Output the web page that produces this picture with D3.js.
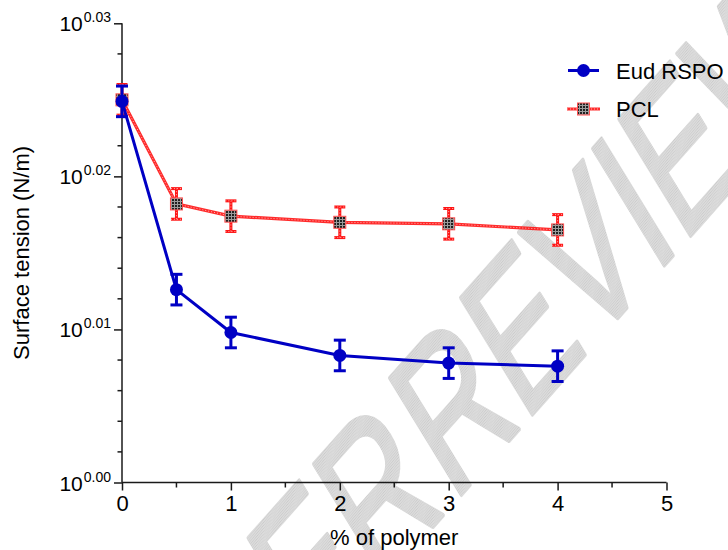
<!DOCTYPE html>
<html>
<head>
<meta charset="utf-8">
<script src="https://cdn.jsdelivr.net/npm/d3@7"></script>
<style>
  html, body { margin: 0; padding: 0; background: #fff; }
  svg { display: block; }
  text { font-family: Arial, "Liberation Sans", sans-serif; }
</style>
</head>
<body>
<svg id="chart" width="728" height="550"></svg>
<script>
// ---- data ----
const xValues = [0, 0.5, 1, 2, 3, 4];              // % of polymer
const eudValues = [0.0249, 0.0126, 0.0098, 0.0083, 0.0078, 0.0076]; // log10 exponent of surface tension
const eudErrors = [0.0010, 0.0010, 0.0010, 0.0010, 0.0010, 0.0010];
const pclValues = [0.0250, 0.0182, 0.0174, 0.0170, 0.0169, 0.0165];
const pclErrors = [0.0010, 0.0010, 0.0010, 0.0010, 0.0010, 0.0010];
const seriesNames = ["Eud RSPO", "PCL"];
const xTickValues = [0, 1, 2, 3, 4, 5];
const xMinorTicks = [0.5, 1.5, 2.5, 3.5, 4.5];
const yTickValues = [0, 0.01, 0.02, 0.03];
const yTickLabels = ["0.00", "0.01", "0.02", "0.03"];
const yMinorTicks = [0.002, 0.004, 0.006, 0.008, 0.012, 0.014, 0.016, 0.018, 0.022, 0.024, 0.026, 0.028];
const xTitle = "% of polymer";
const yTitle = "Surface tension (N/m)";
const watermarkA = "FOR PEER";
const watermarkB = "REVIEW";

const svg = d3.select("#chart");
const x = d3.scaleLinear().domain([0, 5]).range([122, 666.5]);
const y = d3.scaleLinear().domain([0, 0.03]).range([482.5, 23.3]);

const BLUE = "#0000c4";
const RED = "#ff1414";
const PINK = "#ffb4b4";

// patterns
const defs = svg.append("defs");
const sq = defs.append("pattern").attr("id", "sqtex").attr("patternUnits", "userSpaceOnUse")
  .attr("width", 3).attr("height", 3);
sq.append("rect").attr("width", 3).attr("height", 3).attr("fill", "#202020");
sq.append("rect").attr("width", 3).attr("height", 1).attr("fill", "#9a9a9a");
sq.append("rect").attr("width", 1).attr("height", 3).attr("fill", "#9a9a9a");
const wm = defs.append("pattern").attr("id", "wmtex").attr("patternUnits", "userSpaceOnUse")
  .attr("width", 2).attr("height", 2);
wm.append("rect").attr("width", 2).attr("height", 2).attr("fill", "#dcdcdc");
wm.append("rect").attr("width", 1).attr("height", 1).attr("fill", "#cacaca");

// ---- watermark ----
const wg = svg.append("g")
  .attr("transform", "translate(453,504) rotate(-48.5) skewX(-17) scale(0.78,1)")
  .attr("fill", "url(#wmtex)").attr("stroke", "url(#wmtex)").attr("stroke-width", 4)
  .attr("stroke-linejoin", "round").style("font-size", "190px");
wg.append("text").attr("x", 0).attr("y", 0).text(watermarkB);
wg.append("text").attr("x", -10).attr("y", 0).attr("text-anchor", "end").text(watermarkA);

// ---- axes ----
const axisColor = "#1a1a1a";
const xAxis = svg.append("g").attr("transform", `translate(0,${y(0)})`)
  .call(d3.axisBottom(x).tickValues(xTickValues).tickSize(8).tickPadding(4).tickFormat(d3.format("d")));
xAxis.append("g").selectAll("line").data(xMinorTicks).join("line")
  .attr("x1", d => x(d)).attr("x2", d => x(d)).attr("y1", 0).attr("y2", 5);
xAxis.select(".domain").attr("d", `M${x(0)},0H${x(5)}`);
xAxis.selectAll("line").attr("stroke", axisColor).attr("stroke-width", 1.5);
xAxis.select(".domain").attr("stroke", axisColor).attr("stroke-width", 1.5);
xAxis.selectAll(".tick text").attr("fill", "#000").style("font-size", "22px")
  .style("font-family", "Arial, 'Liberation Sans', sans-serif").attr("dy", "0.71em").attr("y", 13);

const yAxis = svg.append("g").attr("transform", `translate(${x(0)},0)`)
  .call(d3.axisLeft(y).tickValues(yTickValues).tickSize(8).tickFormat(""));
yAxis.append("g").selectAll("line").data(yMinorTicks).join("line")
  .attr("x1", 0).attr("x2", -4.5).attr("y1", d => y(d)).attr("y2", d => y(d));
yAxis.select(".domain").attr("d", `M0,${y(0.03)}V${y(0)}`);
yAxis.selectAll("line").attr("stroke", axisColor).attr("stroke-width", 1.5);
yAxis.select(".domain").attr("stroke", axisColor).attr("stroke-width", 1.5);
yAxis.selectAll(".tick").each(function(d, i) {
  const t = d3.select(this).append("text").attr("x", -11).attr("y", 0)
    .attr("text-anchor", "end").attr("fill", "#000").style("font-family", "Arial, 'Liberation Sans', sans-serif");
  t.append("tspan").attr("dy", 7.5).style("font-size", "21px").text("10");
  t.append("tspan").attr("dy", -9).attr("dx", 1).style("font-size", "14px").text(yTickLabels[i]);
});

// titles
svg.append("text").attr("x", (x(0) + x(5)) / 2).attr("y", 545).attr("text-anchor", "middle")
  .style("font-size", "22px").text(xTitle);
svg.append("text").attr("transform", `translate(29,${(y(0) + y(0.03)) / 2}) rotate(-90)`)
  .attr("text-anchor", "middle").style("font-size", "22px").text(yTitle);

// ---- series ----
const line = d3.line().x(d => x(d[0])).y(d => y(d[1]));
const pcl = xValues.map((v, i) => [v, pclValues[i], pclErrors[i]]);
const eud = xValues.map((v, i) => [v, eudValues[i], eudErrors[i]]);

function errorBars(data, color, w, cap, dash) {
  const g = svg.append("g").attr("stroke", color).attr("stroke-width", w).attr("fill", "none");
  if (dash) g.attr("stroke-dasharray", dash);
  data.forEach(d => {
    g.append("line").attr("x1", x(d[0])).attr("x2", x(d[0])).attr("y1", y(d[1] - d[2])).attr("y2", y(d[1] + d[2]));
    g.append("line").attr("x1", x(d[0]) - cap).attr("x2", x(d[0]) + cap).attr("y1", y(d[1] + d[2])).attr("y2", y(d[1] + d[2]));
    g.append("line").attr("x1", x(d[0]) - cap).attr("x2", x(d[0]) + cap).attr("y1", y(d[1] - d[2])).attr("y2", y(d[1] - d[2]));
  });
}

// PCL (red, textured)
svg.append("path").datum(pcl).attr("d", line).attr("fill", "none")
  .attr("stroke", RED).attr("stroke-width", 3.2).attr("stroke-opacity", 0.9);
svg.append("path").datum(pcl).attr("d", line).attr("fill", "none")
  .attr("stroke", PINK).attr("stroke-width", 1).attr("stroke-dasharray", "1,2");
errorBars(pcl, RED, 3, 5.5);
errorBars(pcl, PINK, 1, 5.5, "1,2");
svg.append("g").selectAll("rect").data(pcl).join("rect")
  .attr("x", d => x(d[0]) - 6).attr("y", d => y(d[1]) - 6).attr("width", 12).attr("height", 12)
  .attr("fill", "url(#sqtex)").attr("stroke", "#ff5050").attr("stroke-width", 1);

// Eud RSPO (blue)
svg.append("path").datum(eud).attr("d", line).attr("fill", "none")
  .attr("stroke", BLUE).attr("stroke-width", 3);
errorBars(eud, BLUE, 3, 6);
svg.append("g").selectAll("circle").data(eud).join("circle")
  .attr("cx", d => x(d[0])).attr("cy", d => y(d[1])).attr("r", 6.5).attr("fill", BLUE);

// ---- legend ----
const lg = svg.append("g");
lg.append("line").attr("x1", 568).attr("x2", 599).attr("y1", 70.5).attr("y2", 70.5)
  .attr("stroke", BLUE).attr("stroke-width", 3);
lg.append("circle").attr("cx", 583.5).attr("cy", 70.5).attr("r", 6.5).attr("fill", BLUE);
lg.append("text").attr("x", 616).attr("y", 78.5).style("font-size", "22px").text(seriesNames[0]);
lg.append("line").attr("x1", 567).attr("x2", 600).attr("y1", 109).attr("y2", 109)
  .attr("stroke", RED).attr("stroke-width", 3.2).attr("stroke-opacity", 0.9);
lg.append("line").attr("x1", 567).attr("x2", 600).attr("y1", 109).attr("y2", 109)
  .attr("stroke", PINK).attr("stroke-width", 1).attr("stroke-dasharray", "1,2");
lg.append("rect").attr("x", 577.5).attr("y", 103).attr("width", 12).attr("height", 12)
  .attr("fill", "url(#sqtex)").attr("stroke", "#ff5050").attr("stroke-width", 1);
lg.append("text").attr("x", 616).attr("y", 117).style("font-size", "22px").text(seriesNames[1]);
</script>
</body>
</html>
